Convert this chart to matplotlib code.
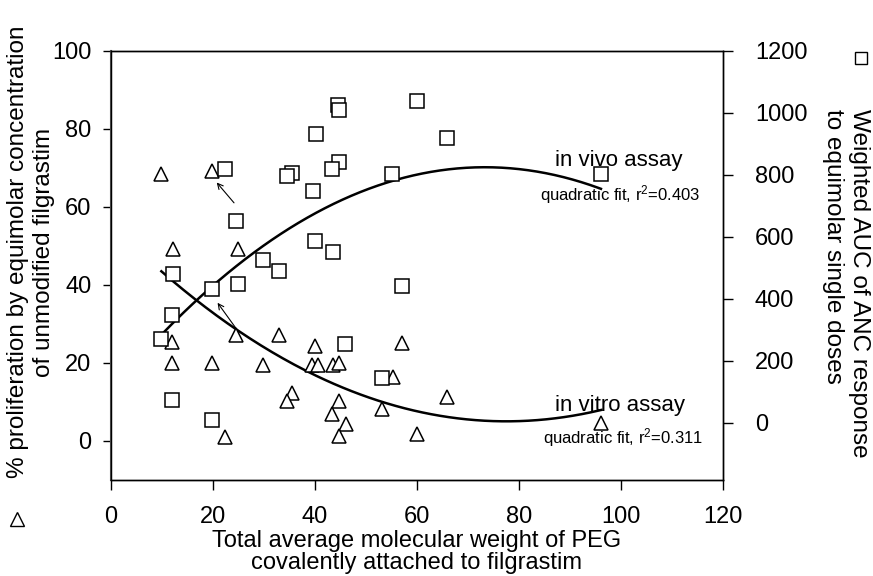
import numpy as np
import matplotlib
matplotlib.use("Agg")
import matplotlib.pyplot as plt
from matplotlib.lines import Line2D

plt.rcParams['font.family'] = ['Liberation Sans', 'DejaVu Sans']
plt.rcParams['mathtext.fontset'] = 'custom'
plt.rcParams['mathtext.rm'] = 'Liberation Sans'
plt.rcParams['mathtext.it'] = 'Liberation Sans'

# in vitro assay: % proliferation (left axis), triangles
vitro_x = [9.9, 19.9, 12.2, 25.0, 11.9, 24.5, 33.0, 40.0, 11.9, 19.9, 29.9, 39.5, 40.6, 43.6,
           44.8, 35.6, 34.6, 44.8, 43.3, 46.2, 44.8, 22.4, 57.0, 55.4, 66.0, 53.1, 60.1, 96.2]
vitro_y = [68.4, 69.2, 49.3, 49.3, 25.3, 27.2, 27.2, 24.3, 20.1, 20.1, 19.4, 19.4, 19.4, 19.4,
           20.1, 12.4, 10.3, 10.3, 6.9, 4.3, 1.3, 0.9, 25.1, 16.3, 11.3, 8.1, 1.7, 4.7]

# in vivo assay: weighted AUC of ANC (right axis), squares
vivo_x = [22.4, 35.6, 34.6, 40.3, 44.5, 44.8, 44.8, 43.3, 39.7, 24.6, 60.1, 66.0, 55.2, 96.1,
          40.0, 43.6, 29.9, 33.0, 12.2, 25.0, 19.9, 11.9, 9.9, 46.0, 11.9, 19.9, 57.0, 53.1]
vivo_y = [818, 805, 795, 931, 1026, 1010, 840, 818, 747, 650, 1039, 918, 803, 803,
          587, 550, 526, 491, 481, 447, 431, 346, 270, 255, 74, 10, 442, 144]

x_ticks = [0, 20, 40, 60, 80, 100, 120]
left_ticks = [0, 20, 40, 60, 80, 100]
right_ticks = [0, 200, 400, 600, 800, 1000, 1200]

fig = plt.figure(figsize=(8.73, 5.76), dpi=100)
ax = fig.add_axes([0.127, 0.1667, 0.701, 0.745])
ax2 = ax.twinx()

# quadratic fits
xx = np.linspace(min(vitro_x), max(vitro_x), 200)
ax.plot(xx, np.polyval(np.polyfit(vitro_x, vitro_y, 2), xx), color='black', lw=1.8)
xx2 = np.linspace(min(vivo_x), max(vivo_x), 200)
ax2.plot(xx2, np.polyval(np.polyfit(vivo_x, vivo_y, 2), xx2), color='black', lw=1.8)

ax.plot(vitro_x, vitro_y, linestyle='none', marker='^', markersize=10,
        markerfacecolor='white', markeredgecolor='black', markeredgewidth=1.1)
ax2.plot(vivo_x, vivo_y, linestyle='none', marker='s', markersize=9.5,
         markerfacecolor='white', markeredgecolor='black', markeredgewidth=1.1)

ax.set_xlim(0, 120)
ax.set_ylim(-10, 100)
ax2.set_ylim(-185, 1200)
ax.set_xticks(x_ticks)
ax.set_yticks(left_ticks)
ax2.set_yticks(right_ticks)

for a in (ax, ax2):
    for s in a.spines.values():
        s.set_linewidth(1.0)
ax.spines['left'].set_color('#555555')
ax.spines['left'].set_linewidth(1.5)
ax.tick_params(axis='x', direction='out', length=7, pad=12, labelsize=17, width=1)
ax.tick_params(axis='y', direction='out', length=6, pad=8, labelsize=17, width=1)
ax2.tick_params(axis='y', direction='out', length=7, pad=16, labelsize=17, width=1)

ax.set_xlabel("Total average molecular weight of PEG\ncovalently attached to filgrastim",
              fontsize=17, labelpad=1, linespacing=1.0)

# annotations
ax.text(87.1, 72, "in vivo assay", fontsize=16, va='center', ha='left')
ax.text(84.1, 63.2, "quadratic fit, r$^2$=0.403", fontsize=12, va='center', ha='left')
ax.text(87.1, 9.0, "in vitro assay", fontsize=16, va='center', ha='left')
ax.text(84.7, 0.8, "quadratic fit, r$^2$=0.311", fontsize=12, va='center', ha='left')
ax.annotate('', xy=(20.4, 66.8), xytext=(24.5, 60.5),
            arrowprops=dict(arrowstyle='->', lw=0.8, color='black'))
ax.annotate('', xy=(20.6, 36.0), xytext=(24.8, 28.4),
            arrowprops=dict(arrowstyle='->', lw=0.8, color='black'))

# axis titles with their symbol keys
fig.text(0.0355, 0.5625, "% proliferation by equimolar concentration\nof unmodified filgrastim",
         rotation=90, ha='center', va='center', fontsize=17.5, multialignment='center')
fig.text(0.969, 0.508, "Weighted AUC of ANC response\nto equimolar single doses",
         rotation=-90, ha='center', va='center', fontsize=17.5, multialignment='left')
fig.add_artist(Line2D([17 / 873], [1 - 519 / 576], transform=fig.transFigure, marker='^',
                      markersize=10, markerfacecolor='white', markeredgecolor='black',
                      markeredgewidth=1.0, linestyle='none'))
fig.add_artist(Line2D([861 / 873], [1 - 58 / 576], transform=fig.transFigure, marker='s',
                      markersize=9, markerfacecolor='white', markeredgecolor='black',
                      markeredgewidth=1.0, linestyle='none'))

fig.savefig("out.png", dpi=100)
